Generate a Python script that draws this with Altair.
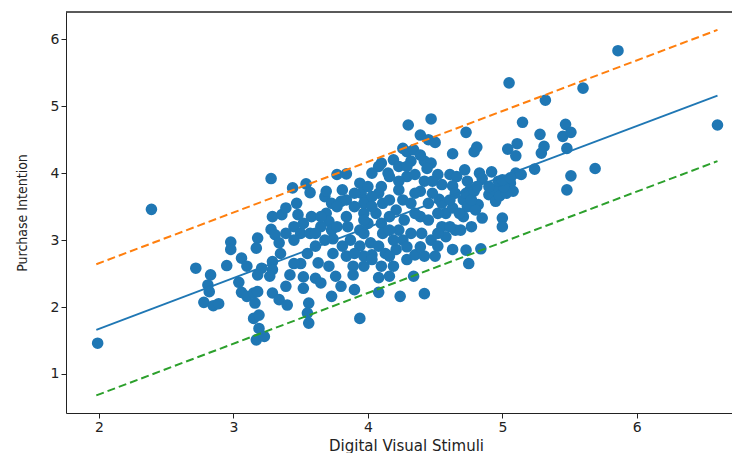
import altair as alt
import pandas as pd

# Scatter data (Digital Visual Stimuli, Purchase Intention)
dvs = [1.99, 2.39, 2.72, 2.83, 2.81, 2.82, 2.78, 2.85, 2.89, 2.95, 2.98, 2.98, 3.06, 3.10, 3.04, 3.06, 3.10, 3.15,
       3.18, 3.16, 3.15, 3.19, 3.19, 3.17, 3.23, 3.18, 3.17, 3.28, 3.29, 3.28, 3.31, 3.34, 3.29, 3.29, 3.27, 3.29,
       3.34, 3.40, 3.39, 3.42, 3.36, 3.39, 3.44, 3.47, 3.48, 3.45, 3.50, 3.50, 3.52, 3.52, 3.56, 3.55, 3.56, 3.54,
       3.57, 3.58, 3.57, 3.61, 3.63, 3.61, 3.65, 3.68, 3.69, 3.73, 3.69, 3.71, 3.73, 3.68, 3.74, 3.71, 3.76, 3.73,
       3.80, 3.77, 3.84, 3.80, 3.84, 3.85, 3.87, 3.84, 3.89, 3.89, 3.90, 3.94, 3.94, 3.95, 3.98, 3.97, 4.00, 3.97,
       4.02, 3.97, 4.03, 4.10, 4.08, 4.15, 4.10, 4.08, 4.11, 4.06, 4.10, 4.11, 4.08, 4.10, 4.08, 4.08, 4.16, 4.19,
       4.24, 4.19, 4.26, 4.30, 4.29, 4.34, 4.32, 4.29, 4.23, 4.26, 4.21, 4.27, 4.23, 4.26, 4.21, 4.29, 4.34, 4.35,
       4.39, 4.47, 4.45, 4.50, 4.42, 4.47, 4.44, 4.42, 4.39, 4.45, 4.39, 4.45, 4.40, 4.47, 4.42, 4.42, 4.50, 4.52,
       4.55, 4.53, 4.58, 4.55, 4.58, 4.52, 4.63, 4.61, 4.66, 4.63, 4.65, 4.63, 4.65, 4.63, 4.73, 4.72, 4.74, 4.76,
       4.71, 4.74, 4.71, 4.77, 4.69, 4.73, 4.75, 4.79, 4.81, 4.83, 4.85, 4.82, 4.80, 4.85, 4.84, 4.92, 4.90, 4.94,
       4.95, 5.00, 5.00, 4.98, 5.05, 5.04, 5.10, 5.11, 5.10, 5.06, 5.08, 5.03, 5.14, 5.15, 5.24, 5.28, 5.29, 5.31,
       5.32, 5.47, 5.45, 5.51, 5.48, 5.51, 5.48, 5.60, 5.69, 5.86, 6.60, 5.01,
       3.84, 3.90, 3.97, 4.03, 4.03, 4.16, 4.16, 3.97, 3.94, 4.16, 4.19, 4.32, 4.35, 4.32, 4.35, 4.48, 4.52, 4.52,
       4.61, 4.48, 4.23, 4.16, 4.35, 3.77, 3.81, 3.94, 4.13, 4.29, 4.39, 3.65, 3.61, 3.65, 3.52, 3.45, 3.39, 3.35,
       3.21, 3.18, 3.45, 3.55, 3.74, 3.90, 3.97, 4.03, 4.16, 4.23, 4.29, 4.39, 4.03, 4.00, 3.90, 3.81, 3.77, 4.55,
       4.61, 4.68, 4.73, 4.79, 4.77, 4.81, 4.90, 4.97, 5.00, 5.06]
pi = [1.46, 3.46, 2.58, 2.48, 2.33, 2.23, 2.07, 2.02, 2.05, 2.62, 2.97, 2.86, 2.73, 2.61, 2.37, 2.22, 2.16, 2.21,
      2.23, 2.06, 1.83, 1.88, 1.68, 1.51, 1.56, 3.03, 2.88, 3.92, 3.35, 3.16, 3.08, 2.96, 2.68, 2.56, 2.46, 2.21,
      2.11, 2.03, 2.31, 2.48, 3.38, 3.48, 3.78, 3.55, 3.38, 3.20, 3.10, 2.65, 2.45, 2.28, 2.06, 1.91, 1.76, 3.84,
      3.71, 3.35, 3.10, 2.91, 2.66, 2.43, 2.36, 3.65, 3.73, 3.55, 3.40, 3.28, 3.15, 3.00, 2.80, 2.61, 2.46, 2.16,
      2.31, 3.98, 3.99, 3.58, 3.35, 3.20, 3.00, 2.76, 2.61, 2.48, 2.26, 1.83, 3.85, 3.70, 3.60, 3.40, 3.25, 3.10,
      2.96, 2.76, 2.78, 4.15, 4.10, 4.00, 3.80, 3.70, 3.55, 3.40, 3.25, 3.10, 2.91, 2.61, 2.44, 2.22, 2.46, 2.61,
      2.16, 4.20, 4.37, 4.72, 4.32, 4.35, 4.18, 3.95, 3.75, 3.60, 3.45, 3.30, 3.15, 3.00, 2.86, 2.71, 2.46, 2.78,
      4.57, 4.81, 4.50, 4.46, 4.18, 4.15, 4.07, 3.88, 3.73, 3.55, 3.35, 3.30, 3.10, 3.00, 2.76, 2.20, 2.76, 3.98,
      3.83, 3.61, 3.40, 3.20, 3.05, 2.91, 4.29, 3.98, 3.95, 3.81, 3.70, 3.48, 3.15, 2.86, 4.61, 4.05, 3.88, 3.75,
      3.60, 3.50, 3.35, 3.20, 3.15, 2.85, 2.65, 4.32, 4.39, 4.00, 3.92, 3.53, 3.45, 3.33, 2.87, 4.02, 3.68, 3.75,
      3.58, 3.33, 3.20, 3.66, 5.35, 4.36, 4.26, 4.44, 4.00, 3.85, 3.73, 3.70, 3.98, 4.76, 4.06, 4.58, 4.30, 4.40,
      5.09, 4.73, 4.55, 4.61, 4.37, 3.96, 3.75, 5.27, 4.07, 5.83, 4.72, 3.80,
      3.60, 3.50, 3.55, 3.65, 3.50, 3.60, 3.35, 3.30, 3.15, 3.15, 3.00, 3.10, 3.40, 3.55, 3.70, 3.70, 3.40, 3.10,
      3.20, 3.88, 3.88, 3.95, 3.98, 3.20, 2.91, 2.91, 2.80, 2.90, 2.90, 3.20, 3.10, 3.35, 3.25, 3.00, 3.10, 2.80,
      2.58, 2.48, 2.65, 2.80, 3.02, 2.80, 2.61, 2.71, 2.76, 4.10, 4.10, 4.27, 4.00, 3.80, 3.70, 3.75, 3.50, 3.55,
      3.60, 3.40, 3.70, 3.73, 3.60, 3.80, 3.80, 3.88, 3.90, 3.93]

# Fitted line and +/- bands, endpoints
line_x = [1.98, 6.60]
fit_y = [1.66, 5.16]
upper_y = [2.64, 6.14]
lower_y = [0.68, 4.18]

x_ticks = [2, 3, 4, 5, 6]
y_ticks = [1, 2, 3, 4, 5, 6]

pts = pd.DataFrame({"x": dvs, "y": pi})
fit = pd.DataFrame({"x": line_x, "y": fit_y})
upp = pd.DataFrame({"x": line_x, "y": upper_y})
low = pd.DataFrame({"x": line_x, "y": lower_y})

W, H = 666, 401
xs = alt.Scale(domain=[1.7546, 6.708], nice=False, zero=False)
ys = alt.Scale(domain=[0.417, 6.408], nice=False, zero=False)

xenc = alt.X("x:Q", scale=xs, axis=alt.Axis(values=x_ticks, title="Digital Visual Stimuli",
                                            titleX=340, titleY=37, titleBaseline="alphabetic"))
yenc = alt.Y("y:Q", scale=ys, axis=alt.Axis(values=y_ticks, title="Purchase Intention"))

points = alt.Chart(pts).mark_circle(size=135, opacity=1, color="#1f77b4").encode(x=xenc, y=yenc)
l_fit = alt.Chart(fit).mark_line(color="#1f77b4", strokeWidth=1.8).encode(x=xenc, y=yenc)
l_up = alt.Chart(upp).mark_line(color="#ff7f0e", strokeWidth=2, strokeDash=[8, 4]).encode(x=xenc, y=yenc)
l_low = alt.Chart(low).mark_line(color="#2ca02c", strokeWidth=2, strokeDash=[8, 4]).encode(x=xenc, y=yenc)
top_frame = alt.Chart(fit).mark_rule(color="#222222", strokeWidth=1).encode(
    x=alt.value(0), x2=alt.value(W + 8), y=alt.value(0)
)

chart = (
    alt.layer(points, l_fit, l_up, l_low, top_frame)
    .properties(
        width=W,
        height=H,
        autosize=alt.AutoSizeParams(type="none"),
        padding={"left": 58, "top": 4, "right": 0, "bottom": 40},
        background="white",
    )
    .configure_view(stroke="transparent")
    .configure_axis(
        grid=False,
        domain=True,
        domainColor="#222222",
        tickColor="#222222",
        tickSize=5,
        labelFont="DejaVu Sans",
        labelFontSize=14,
        labelColor="#222222",
        labelPadding=2,
        titleFontWeight="normal",
        titleColor="#222222",
    )
    .configure_axisX(titleFont="DejaVu Sans", titleFontSize=15)
    .configure_axisY(titleFont="Liberation Sans Narrow, DejaVu Sans Condensed, sans-serif", titleFontSize=14, titlePadding=21)
)

chart.save("out.html", embed_options={"renderer": "svg", "actions": False})
